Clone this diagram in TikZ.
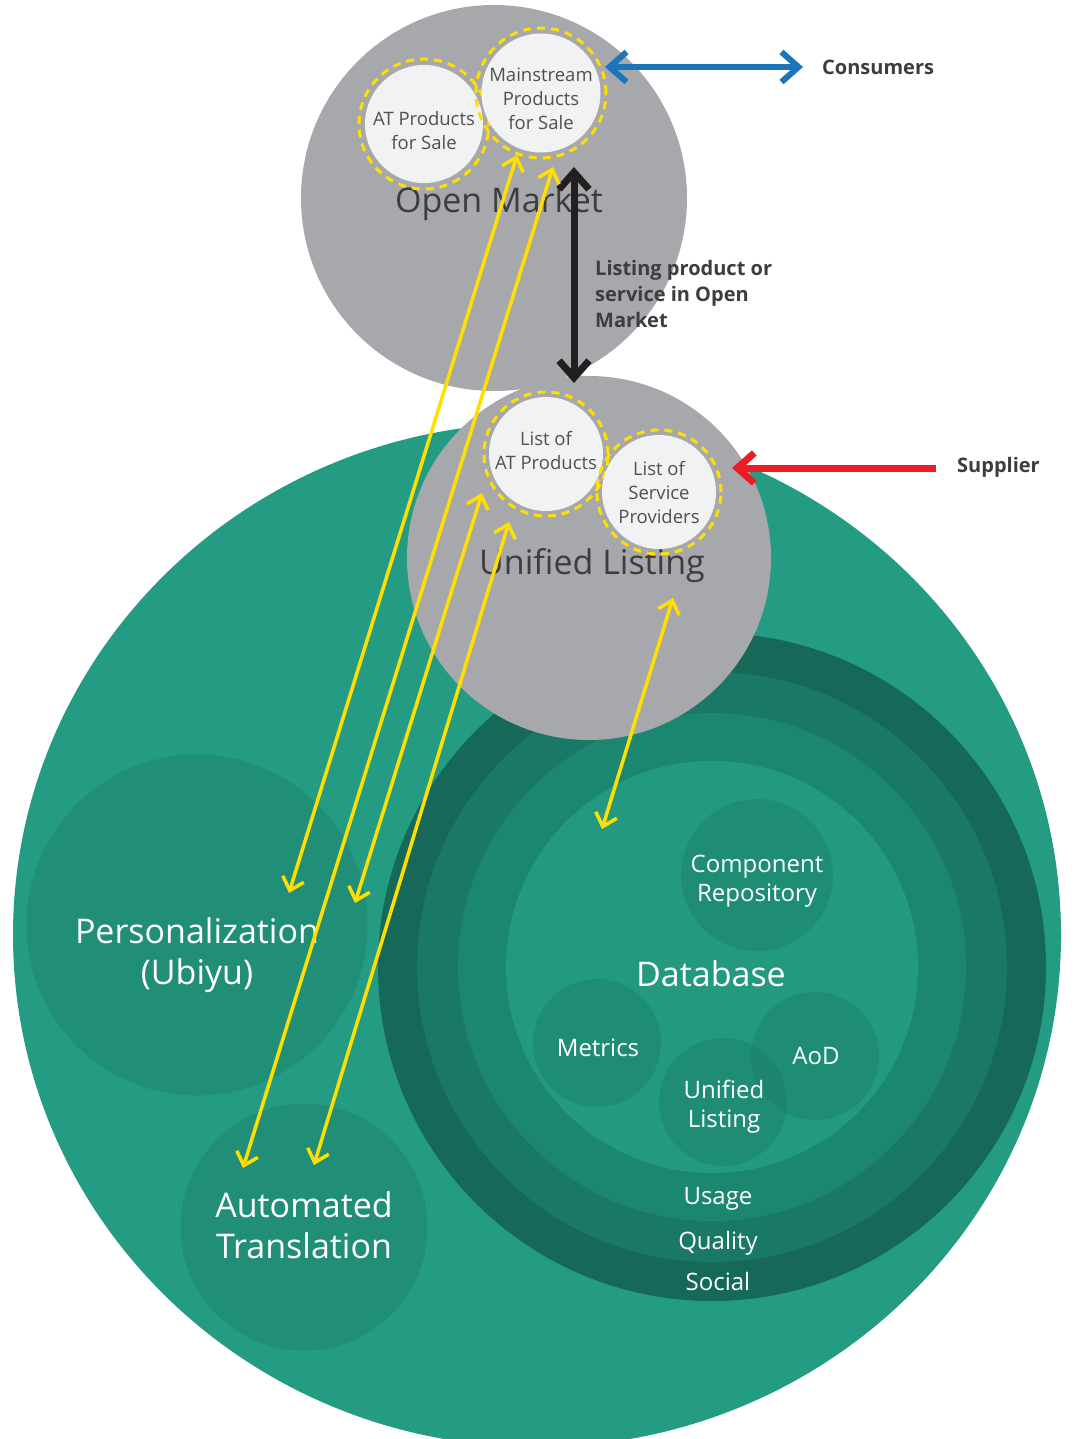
\documentclass[tikz,border=0pt]{standalone}
\usepackage{fontspec}
\setmainfont{Open Sans}
\usetikzlibrary{arrows.meta}
\definecolor{bggreen}{HTML}{249C83}
\definecolor{pgreen}{HTML}{218F77}
\definecolor{ringa}{HTML}{166858}
\definecolor{ringb}{HTML}{197866}
\definecolor{ringc}{HTML}{1C8770}
\definecolor{ringd}{HTML}{239A80}
\definecolor{subgreen}{HTML}{16725F}
\definecolor{mktgray}{HTML}{A7A8AC}
\definecolor{paper}{HTML}{F1F2F4}
\definecolor{ink}{HTML}{3D3D40}
\definecolor{softink}{HTML}{505053}
\definecolor{ayellow}{HTML}{FFDF00}
\definecolor{ablue}{HTML}{1B75BB}
\definecolor{ared}{HTML}{ED1C24}
\definecolor{ablack}{HTML}{231F20}
\tikzset{
  disc/.style={circle, inner sep=0pt, minimum size=#1},
  subdisc/.style={disc=#1, fill=subgreen, fill opacity=.3},
  prod/.style={disc=#1, fill=paper},
  prodtext/.style={text=softink, align=center, font=\fontsize{18.5}{24}\selectfont},
  halo/.style={disc=#1, draw=ayellow, line width=3pt, dash pattern=on 8pt off 6pt},
  bigtext/.style={text=white, align=center, font=\fontsize{34}{41}\selectfont},
  graytext/.style={text=ink, font=\fontsize{34}{41}\selectfont},
  smalltext/.style={text=white, align=center, font=\fontsize{24}{29}\selectfont},
  sidelabel/.style={text=ink, anchor=west, inner sep=0pt, align=left, font=\bfseries\fontsize{20}{26}\selectfont},
  ytip/.tip={Straight Barb[length=12pt,width=22pt]},
  btip/.tip={Straight Barb[length=17pt,width=30pt]},
  ylink/.style={draw=ayellow, line width=3.5pt, ytip-ytip}
}
\begin{document}
\begin{tikzpicture}[x=1pt, y=-1pt]
\useasboundingbox (0,0) rectangle (1074,1439);
\fill[bggreen] (537,935) ellipse [x radius=524, y radius=512];

\node[disc=668pt, fill=ringa] (ring1) at (712,967) {};
\node[disc=590pt, fill=ringb] (ring2) at (712,967) {};
\node[disc=508pt, fill=ringc] (ring3) at (712,967) {};
\node[disc=412pt, fill=ringd] (db) at (712,967) {};
\node[bigtext] (dbtext) at (711,974) {Database};
\node[smalltext] (usage) at (718,1199) {Usage};
\node[smalltext] (quality) at (718,1243) {Quality};
\node[smalltext] (social) at (718,1281) {Social};

\node[subdisc=152pt] (comp) at (757,875) {};
\node[subdisc=128pt] (metrics) at (597,1043) {};
\node[subdisc=128pt] (aod) at (815,1056) {};
\node[subdisc=128pt] (uldb) at (723,1102) {};
\node[smalltext] (comptext) at (757,881) {Component\\Repository};
\node[smalltext] (metricstext) at (598,1048) {Metrics};
\node[smalltext] (aodtext) at (816,1056) {AoD};
\node[smalltext] (uldbtext) at (724,1107) {Unified\\Listing};

\node[disc=341pt, fill=pgreen] (pers) at (197,925) {};
\node[bigtext] (perstext) at (197,955) {Personalization\\(Ubiyu)};
\node[disc=247pt, fill=pgreen] (trans) at (304,1227) {};
\node[bigtext] (transtext) at (304,1225) {Automated\\Translation};

\node[disc=386pt, fill=mktgray] (om) at (494,198) {};
\node[disc=364pt, fill=mktgray] (ul) at (589,558) {};
\node[graytext] (omtext) at (499,204) {Open Market};
\node[graytext] (ultext) at (592,566) {Unified Listing};

\node[halo=130pt] (atring) at (424,124) {};
\node[prod=118pt] (at) at (424,124) {};
\node[prodtext] (attext) at (424,131) {AT Products\\for Sale};
\node[halo=130pt] (msring) at (541,93) {};
\node[prod=119pt] (ms) at (541,93) {};
\node[prodtext] (mstext) at (541,99) {Mainstream\\Products\\for Sale};
\node[halo=124pt] (latring) at (546,454) {};
\node[prod=114pt] (lat) at (546,454) {};
\node[prodtext] (lattext) at (546,451) {List of\\AT Products};
\node[halo=124pt] (lspring) at (659,492) {};
\node[prod=114pt] (lsp) at (659,492) {};
\node[prodtext] (lsptext) at (659,493) {List of\\Service\\Providers};

\node[sidelabel] (cons) at (822,67) {Consumers};
\node[sidelabel] (supp) at (957,467) {Supplier};
\node[sidelabel] (listing) at (595,294) {Listing product or\\service in Open\\Market};

\coordinate (conl) at (605,67);
\coordinate (conr) at (803,67);
\coordinate (lsttop) at (574,167);
\coordinate (lstbot) at (574,383);
\coordinate (supfrom) at (936,468);
\coordinate (supto) at (732,468);
\draw[ablue, line width=6pt, btip-btip] (conl) -- (conr);
\draw[ablack, line width=7pt, btip-btip] (lsttop) -- (lstbot);
\draw[ared, line width=7pt, -btip] (supfrom) -- (supto);

\coordinate (p1) at (289,893);
\coordinate (p2) at (355,903);
\coordinate (t1) at (243,1168);
\coordinate (t2) at (314,1165);
\coordinate (m1) at (517,155);
\coordinate (m2) at (553,167);
\coordinate (a1) at (482,493);
\coordinate (a2) at (509,522);
\coordinate (d1) at (602,829);
\coordinate (u1) at (673,598);
\draw[ylink] (p1) -- (m1);
\draw[ylink] (t1) -- (m2);
\draw[ylink] (p2) -- (a1);
\draw[ylink] (t2) -- (a2);
\draw[ylink] (d1) -- (u1);
\end{tikzpicture}
\end{document}
